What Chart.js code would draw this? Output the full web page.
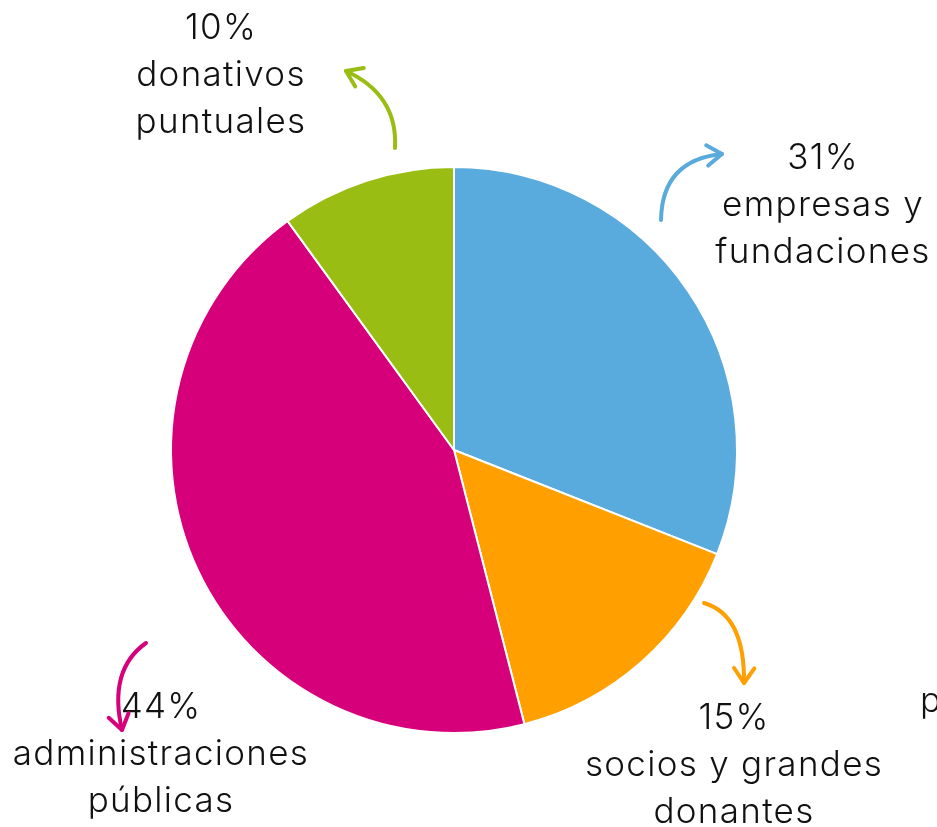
<!DOCTYPE html>
<html lang="es">
  <head>
    <meta charset="utf-8" />
    <title>Origen de los fondos</title>
    <style>
      * { margin: 0; padding: 0; }
      body { background: #fff; }
      .chartBox { width: 937px; height: 827px; }
    </style>
  </head>
  <body>
    <div class="chartBox"><canvas id="myChart"></canvas></div>
    <script src="https://cdn.jsdelivr.net/npm/chart.js"></script>
    <script>
      // data block
      const categories = ["empresas y fundaciones", "socios y grandes donantes", "administraciones públicas", "donativos puntuales"];
      const shares = [31, 15, 44, 10];
      const colors = ["#5aabdd", "#ff9f00", "#d7007b", "#99bd13"];

      // label text lines + placement (centre x, first baseline y) and arrow path
      const labelLines = [
        ["31%", "empresas y", "fundaciones"],
        ["15%", "socios y grandes", "donantes"],
        ["44%", "administraciones", "públicas"],
        ["10%", "donativos", "puntuales"],
      ];
      const labelPos = [[823, 169], [734, 729], [161, 718], [221, 39]];
      // [start, control, end] of each curved arrow
      const arrows = [
        [[661, 220], [662, 160], [722, 154]],
        [[704, 603], [745, 615], [744, 683]],
        [[146, 643], [108, 670], [122, 730]],
        [[395, 148], [398, 95], [346, 71]],
      ];

      const fontCss = "300 35px Inter, 'Noto Sans', sans-serif";

      // labels + arrows plugin
      const labelsPlugin = {
        id: "labelsPlugin",
        afterDraw(chart) {
          const { ctx } = chart;
          ctx.save();
          ctx.font = fontCss;
          ctx.letterSpacing = "1.3px";
          ctx.fillStyle = "#111";
          ctx.textAlign = "center";
          ctx.textBaseline = "alphabetic";
          labelLines.forEach((lines, i) => {
            const [x, y] = labelPos[i];
            lines.forEach((t, j) => ctx.fillText(t, x, y + j * 47));
          });
          // cut-off word at the right edge
          ctx.textAlign = "left";
          ctx.fillText("p", 920, 712);

          ctx.lineWidth = 4;
          ctx.lineCap = "round";
          ctx.lineJoin = "round";
          arrows.forEach((a, i) => {
            const [s, c, e] = a;
            ctx.strokeStyle = colors[i];
            ctx.beginPath();
            ctx.moveTo(s[0], s[1]);
            ctx.quadraticCurveTo(c[0], c[1], e[0], e[1]);
            ctx.stroke();
            // arrow head along the tangent at the end
            const ang = Math.atan2(e[1] - c[1], e[0] - c[0]);
            const len = 18;
            ctx.beginPath();
            ctx.moveTo(e[0] - len * Math.cos(ang - 0.6), e[1] - len * Math.sin(ang - 0.6));
            ctx.lineTo(e[0], e[1]);
            ctx.lineTo(e[0] - len * Math.cos(ang + 0.6), e[1] - len * Math.sin(ang + 0.6));
            ctx.stroke();
          });
          ctx.restore();
        },
      };

      // config block
      const config = {
        type: "pie",
        data: {
          labels: categories,
          datasets: [
            {
              data: shares,
              backgroundColor: colors,
              borderColor: "#ffffff",
              borderWidth: 2,
            },
          ],
        },
        options: {
          responsive: true,
          maintainAspectRatio: false,
          animation: false,
          layout: { padding: { left: 170, right: 199, top: 166, bottom: 93 } },
          plugins: {
            legend: { display: false },
            tooltip: { enabled: false },
          },
        },
        plugins: [labelsPlugin],
      };

      const myChart = new Chart(document.getElementById("myChart"), config);
    </script>
  </body>
</html>
